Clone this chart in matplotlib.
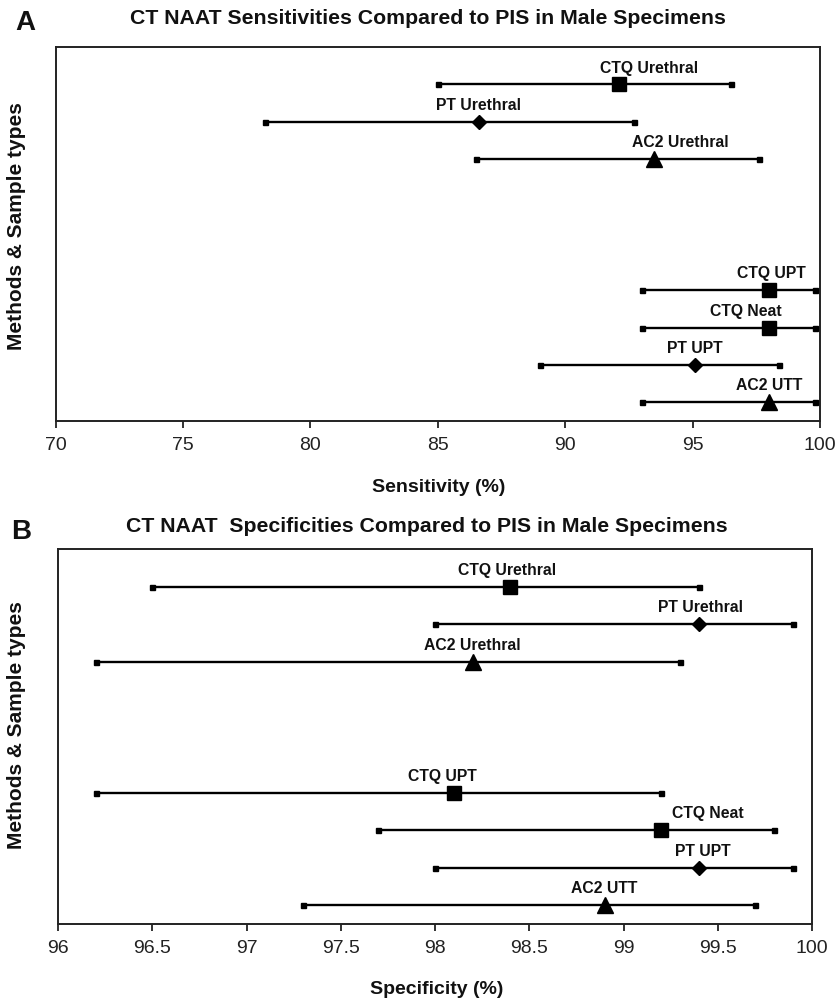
import matplotlib
matplotlib.use("Agg")
import matplotlib.pyplot as plt

plt.rcParams['font.family'] = ['Liberation Sans', 'DejaVu Sans']

# ---------------- data ----------------
methods = ["CTQ Urethral", "PT Urethral", "AC2 Urethral",
           "CTQ UPT", "CTQ Neat", "PT UPT", "AC2 UTT"]
assay = ["CTQ", "PT", "AC2", "CTQ", "CTQ", "PT", "AC2"]

sens_est = [92.1, 86.6, 93.5, 98.0, 98.0, 95.1, 98.0]
sens_lo = [85.0, 78.2, 86.5, 93.0, 93.0, 89.0, 93.0]
sens_hi = [96.5, 92.7, 97.6, 99.8, 99.8, 98.4, 99.8]

spec_est = [98.4, 99.4, 98.2, 98.1, 99.2, 99.4, 98.9]
spec_lo = [96.5, 98.0, 96.2, 96.2, 97.7, 98.0, 97.3]
spec_hi = [99.4, 99.9, 99.3, 99.2, 99.8, 99.9, 99.7]

sens_ticks = [70, 75, 80, 85, 90, 95, 100]
spec_ticks = [96, 96.5, 97, 97.5, 98, 98.5, 99, 99.5, 100]
spec_ticklabels = ["96", "96.5", "97", "97.5", "98", "98.5", "99", "99.5", "100"]

# ---------------- layout / style ----------------
row_pos = [9, 8, 7, 3.5, 2.5, 1.5, 0.5]          # categorical rows (with gap)
sens_label_x = [93.3, 86.6, 94.5, 98.1, 97.1, 95.1, 98.0]
spec_label_x = [98.38, 99.41, 98.2, 98.04, 99.45, 99.42, 98.9]
marker_style = {"CTQ": ("s", 10.5), "PT": ("D", 6.8), "AC2": ("^", 11.5)}

W, H = 837, 1004
fig = plt.figure(figsize=(W / 100, H / 100), dpi=100)

def fx(px):
    return px / W

def fy(py):
    return 1 - py / H

ax1 = fig.add_axes([fx(55.7), fy(422), fx(820 - 55.7), (422 - 48) / H])
ax2 = fig.add_axes([fx(58), fy(925), fx(812 - 58), (925 - 550) / H])


def draw(ax, est, lo, hi, label_x, xlim, ticks, ticklabels):
    for i in range(len(methods)):
        y = row_pos[i]
        ax.plot([lo[i], hi[i]], [y, y], color="black", lw=1.7,
                solid_capstyle="butt", zorder=2)
        ax.plot([lo[i], hi[i]], [y, y], ls="none", marker="s", ms=3.6,
                color="black", zorder=3)
        m, ms = marker_style[assay[i]]
        ax.plot([est[i]], [y], ls="none", marker=m, ms=ms, color="black",
                zorder=4)
        ax.annotate(methods[i], xy=(label_x[i], y), xytext=(0, 12.5),
                    textcoords="offset points", ha="center", va="center",
                    fontsize=11.3, fontweight="bold", color="#111111")
    ax.set_xlim(*xlim)
    ax.set_ylim(0, 10)
    ax.set_yticks([])
    ax.set_xticks(ticks)
    ax.set_xticklabels(ticklabels)
    ax.tick_params(axis="x", direction="out", length=5, width=1.3,
                   labelsize=14, pad=6, colors="#222222")
    for s in ax.spines.values():
        s.set_linewidth(1.4)
        s.set_color("#222222")


draw(ax1, sens_est, sens_lo, sens_hi, sens_label_x, (70, 100),
     sens_ticks, [str(t) for t in sens_ticks])
draw(ax2, spec_est, spec_lo, spec_hi, spec_label_x, (96, 100),
     spec_ticks, spec_ticklabels)

# ---------------- texts ----------------
fig.text(fx(428), fy(18), "CT NAAT Sensitivities Compared to PIS in Male Specimens",
         ha="center", va="center", fontsize=15.3, fontweight="bold", color="#111111")
fig.text(fx(427), fy(527), "CT NAAT  Specificities Compared to PIS in Male Specimens",
         ha="center", va="center", fontsize=15.3, fontweight="bold", color="#111111")
fig.text(fx(25), fy(23), "A", ha="center", va="center", fontsize=20,
         fontweight="bold", color="#111111")
fig.text(fx(21), fy(532), "B", ha="center", va="center", fontsize=20,
         fontweight="bold", color="#111111")
fig.text(fx(439), fy(488), "Sensitivity (%)", ha="center", va="center",
         fontsize=14, fontweight="bold", color="#111111")
fig.text(fx(437), fy(990), "Specificity (%)", ha="center", va="center",
         fontsize=14, fontweight="bold", color="#111111")
fig.text(fx(17), fy(226), "Methods & Sample types", ha="center", va="center",
         rotation=90, fontsize=15, fontweight="bold", color="#111111")
fig.text(fx(17), fy(725), "Methods & Sample types", ha="center", va="center",
         rotation=90, fontsize=15, fontweight="bold", color="#111111")

fig.savefig("out.png", dpi=100)
